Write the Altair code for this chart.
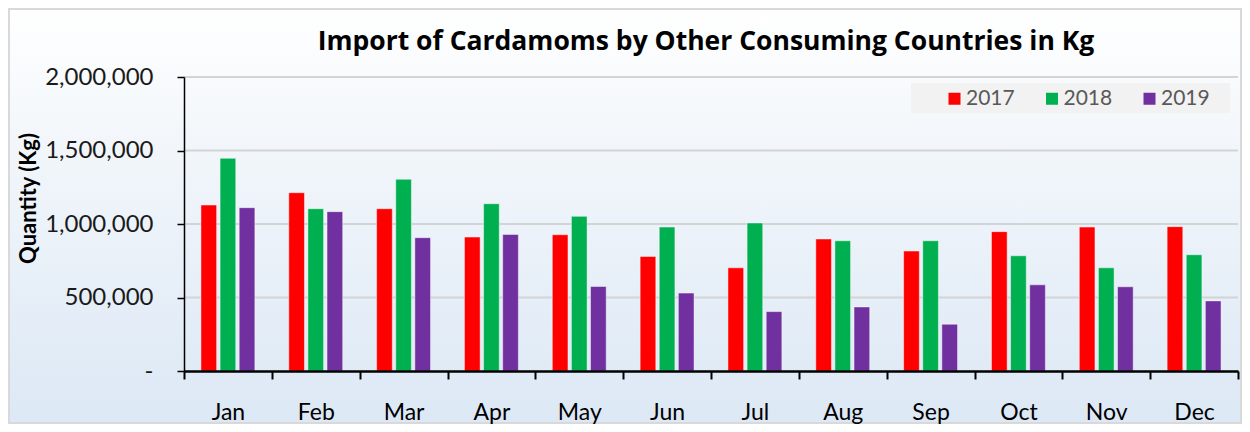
import altair as alt
import pandas as pd

months = ["Jan", "Feb", "Mar", "Apr", "May", "Jun", "Jul", "Aug", "Sep", "Oct", "Nov", "Dec"]
years = ["2017", "2018", "2019"]
v2017 = [1129000, 1213000, 1104000, 911000, 927000, 779000, 702000, 898000, 816000, 948000, 979000, 982000]
v2018 = [1447000, 1104000, 1304000, 1138000, 1052000, 979000, 1007000, 886000, 886000, 784000, 702000, 791000]
v2019 = [1111000, 1084000, 907000, 929000, 575000, 530000, 404000, 436000, 318000, 586000, 573000, 477000]
colors = ["#ff0000", "#00b050", "#7030a0"]
grid_values = [500000, 1000000, 1500000, 2000000]
title_text = "Import of Cardamoms by Other Consuming Countries in Kg"

rows = []
for y, vals in zip(years, [v2017, v2018, v2019]):
    for m, v in zip(months, vals):
        rows.append({"Month": m, "Year": y, "Quantity": v})
df = pd.DataFrame(rows)
grid_df = pd.DataFrame({"g": grid_values})

W, H = 1054, 294
PL, PT, PR, PB = 176, 69, 4, 53
FONT = "Lato"

one = alt.Data(values=[{"k": 1}])

bg = alt.Chart(one).mark_rect(
    fill=alt.LinearGradient(
        gradient="linear",
        stops=[alt.GradientStop(color="#ffffff", offset=0),
               alt.GradientStop(color="#f3f7fb", offset=0.3),
               alt.GradientStop(color="#dce8f5", offset=1)],
        x1=0, x2=0, y1=0, y2=1),
    stroke="#d9d9d9", strokeWidth=2,
).encode(x=alt.value(-PL + 1), x2=alt.value(W + PR - 1),
         y=alt.value(-PT + 1), y2=alt.value(H + PB - 1))

title = alt.Chart(one).mark_text(
    font="Open Sans", fontSize=26.5, fontWeight="bold", color="#000000",
    align="center", baseline="middle",
).encode(x=alt.value(522), y=alt.value(-35), text=alt.value(title_text))

legbox = alt.Chart(one).mark_rect(fill="#f2f2f2").encode(
    x=alt.value(727), x2=alt.value(1046), y=alt.value(6), y2=alt.value(36))

grid = alt.Chart(grid_df).mark_rule(color="#d4d4d4", strokeWidth=2).encode(
    y=alt.Y("g:Q", scale=alt.Scale(domain=[0, 2000000])),
    x=alt.value(0), x2=alt.value(W),
)

bars = alt.Chart(df).mark_bar(stroke="white", strokeWidth=1, strokeOpacity=0.45).encode(
    x=alt.X("Month:N", sort=months, title=None,
            scale=alt.Scale(paddingInner=0, paddingOuter=0),
            axis=alt.Axis(labelAngle=0, labelFontSize=23, labelFont=FONT, labelColor="#000000",
                          labelPadding=22, tickBand="extent", tickSize=8, tickColor="#000000",
                          tickWidth=2, domainColor="#000000", domainWidth=2.5, zindex=1)),
    xOffset=alt.XOffset("Year:N", scale=alt.Scale(paddingInner=0.18, paddingOuter=0.8875)),
    y=alt.Y("Quantity:Q", title="Quantity (Kg)",
            scale=alt.Scale(domain=[0, 2000000]),
            axis=alt.Axis(values=[0, 500000, 1000000, 1500000, 2000000], grid=False, zindex=1,
                          labelExpr="datum.value == 0 ? '-\u2002\u2002' : format(datum.value, ',')",
                          labelFontSize=24, labelFont=FONT, labelColor="#1a1a1a", labelPadding=24,
                          tickSize=7, tickColor="#000000", tickWidth=1.5,
                          domainColor="#000000", domainWidth=1.5,
                          titleFont=FONT, titleFontSize=22, titleFontWeight="bold", titleColor="#000000",
                          titleX=-156, titleY=H / 2 - 26, titleAngle=270, titleAlign="center",
                          titleBaseline="middle")),
    color=alt.Color("Year:N", scale=alt.Scale(domain=years, range=colors),
                    legend=alt.Legend(title=None, orient="none", legendX=760, legendY=11,
                                      direction="horizontal", symbolType="square", symbolSize=144,
                                      symbolStrokeWidth=0, labelFontSize=21, labelFont=FONT,
                                      labelColor="#595959", labelOffset=1, columnPadding=26.5,
                                      gridAlign="all", padding=0)),
)

chart = alt.layer(bg, title, legbox, grid, bars).resolve_scale(y="shared").properties(
    width=W, height=H,
    autosize=alt.AutoSizeParams(type="none"),
    padding={"left": PL, "top": PT, "right": PR, "bottom": PB},
).configure_view(stroke=None).configure(background="white")

chart.save("out.html", embed_options={"renderer": "svg", "actions": False})
